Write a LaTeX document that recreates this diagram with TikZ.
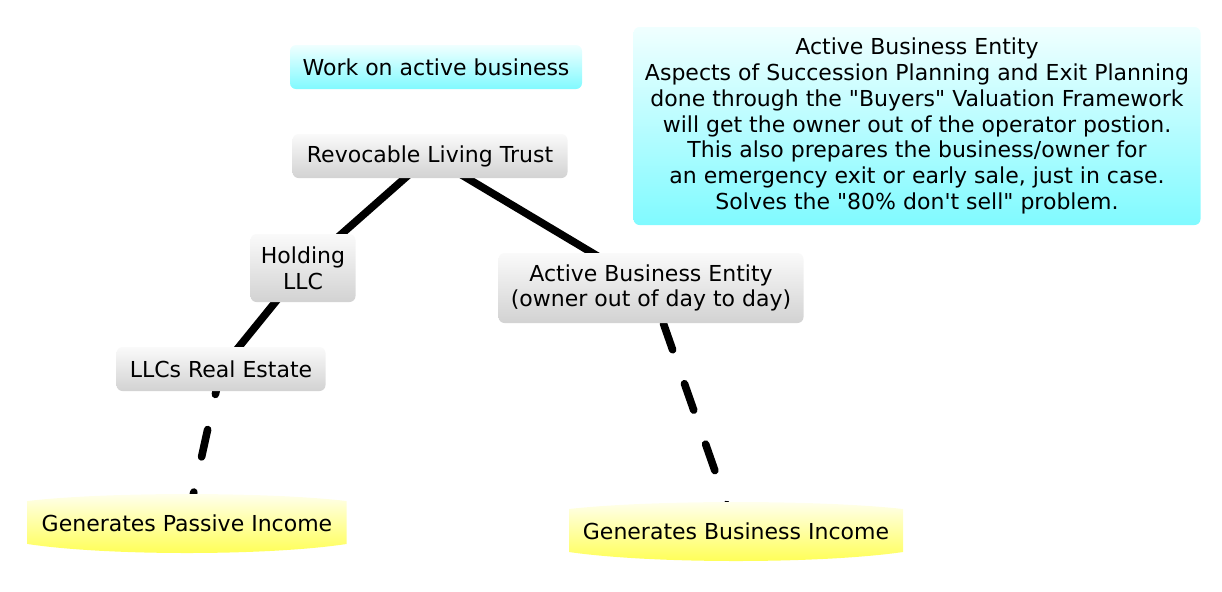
\documentclass[tikz,border=0pt]{standalone}
\usepackage{fontspec}
\setmainfont{DejaVu Sans}[Ligatures=TeXOff]
\pgfdeclarelayer{back}
\pgfdeclarelayer{mid}
\pgfsetlayers{back,mid,main}
\definecolor{graytop}{RGB}{250,250,250}
\definecolor{graybot}{RGB}{210,210,210}
\definecolor{cyantop}{RGB}{240,255,255}
\definecolor{cyanbot}{RGB}{128,250,255}
\definecolor{yellowtop}{RGB}{255,255,242}
\definecolor{yellowbot}{RGB}{255,255,80}
\tikzset{
	graybox/.style={rectangle, rounded corners=3pt, top color=graytop, bottom color=graybot, align=center, inner sep=0pt},
	cyanbox/.style={rectangle, rounded corners=3pt, top color=cyantop, bottom color=cyanbot, align=center, inner sep=0pt},
	income/.style={align=center, inner sep=0pt},
	incomefill/.style={top color=yellowtop, bottom color=yellowbot},
	link/.style={line width=3.8pt, black},
	dashlink/.style={link, line cap=round, dash pattern=on 14pt off 18pt},
}

\begin{document}
\begin{tikzpicture}[x=0.5pt, y=-0.5pt, font=\fontsize{11}{12.9}\selectfont]
	\useasboundingbox (0,0) rectangle (1222,591);
	\node[cyanbox, minimum width=146pt, minimum height=22pt] (work) at (436,67) {Work on active business};
	\node[graybox, minimum width=137.5pt, minimum height=22pt] (trust) at (430,156) {Revocable Living Trust};
	\node[graybox, minimum width=52.5pt, minimum height=34pt] (holding) at (303,268) {Holding\\LLC};
	\node[graybox, minimum width=104.5pt, minimum height=22pt] (estate) at (221,369) {LLCs Real Estate};
	\node[graybox, minimum width=152.5pt, minimum height=35pt] (entity) at (651,288) {Active Business Entity\\(owner out of day to day)};
	\node[cyanbox, minimum width=283.5pt, minimum height=99pt] (notes) at (917,126) {Active Business Entity\\Aspects of Succession Planning and Exit Planning\\done through the "Buyers" Valuation Framework\\will get the owner out of the operator postion.\\This also prepares the business/owner for\\an emergency exit or early sale, just in case.\\Solves the "80\% don't sell" problem.};
	\node[income] (passive) at (187,523) {Generates Passive Income};
	\node[income] (business) at (736,531) {Generates Business Income};

	% yellow banners under the income labels
	\begin{pgfonlayer}{mid}
		\begin{scope}[shift={(passive.center)}]
			\shade[incomefill] (-159.5,-22) .. controls (-80,-31.3) and (80,-31.3) .. (159.5,-22) -- (159.5,21) .. controls (80,33) and (-80,33) .. (-159.5,21) -- cycle;
		\end{scope}
		\begin{scope}[shift={(business.center)}]
			\shade[incomefill] (-167,-22) .. controls (-84,-31.3) and (84,-31.3) .. (167,-22) -- (167,21) .. controls (84,33) and (-84,33) .. (-167,21) -- cycle;
		\end{scope}
	\end{pgfonlayer}

	\begin{pgfonlayer}{back}
		\draw[link] (trust.center) -- (holding.center);
		\draw[link] (holding.center) -- (estate.center);
		\draw[link] (trust.center) -- (entity.center);
		\draw[dashlink, dash phase=1pt] (estate.center) -- (passive.center);
		\draw[dashlink, dash phase=13.3pt] (entity.center) -- (business.center);
	\end{pgfonlayer}
\end{tikzpicture}
\end{document}
